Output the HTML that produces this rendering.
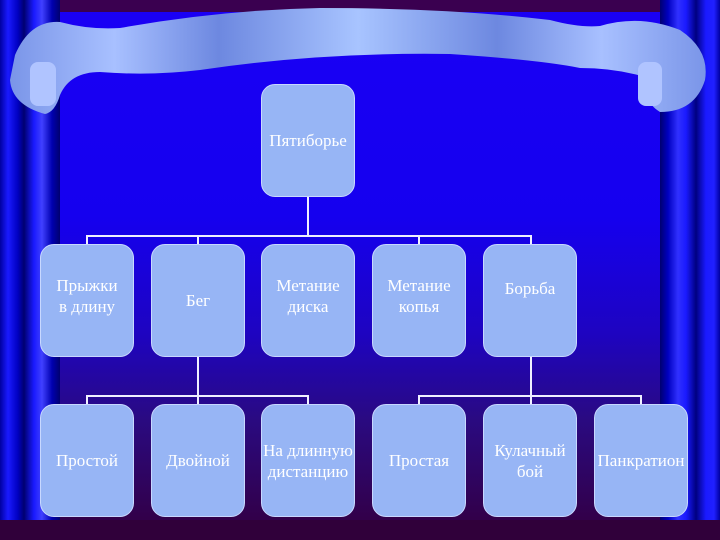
<!DOCTYPE html>
<html><head><meta charset="utf-8"><style>
body{margin:0;width:720px;height:540px;overflow:hidden;background:#2a0040;font-family:"Liberation Serif",serif}
.b{position:absolute;width:94px;height:113px;background:#97b5f5;border:1px solid #c8d8ff;border-radius:14px;box-sizing:border-box;color:#fff;font-size:17px;display:flex;align-items:center;justify-content:center;text-align:center;line-height:21px}
.l{position:absolute;background:#f0f0ff}
</style></head><body>
<div style="position:absolute;left:0;top:0;width:720px;height:540px;background:linear-gradient(#1a00f5 0%,#1500ef 40%,#1e04c0 62%,#2a0a80 78%,#32004a 96%)"></div>
<div style="position:absolute;left:60px;top:0;width:600px;height:12px;background:#3a0050"></div>
<div style="position:absolute;left:0;top:0;width:60px;height:540px;background:linear-gradient(90deg,#0000a0 0,#1a1aff 8px,#0000c0 18px,#000070 24px,#1a1aff 34px,#4040ff 42px,#0000b0 52px,#000070 60px)"></div>
<div style="position:absolute;left:660px;top:0;width:60px;height:540px;background:linear-gradient(90deg,#000070 0,#0000c0 8px,#3030ff 18px,#1a1aff 26px,#000080 36px,#1a1aff 46px,#2020ff 54px,#0000a0 60px)"></div>
<div style="position:absolute;left:0;top:520px;width:720px;height:20px;background:#30003a"></div>
<svg style="position:absolute;left:0;top:0" width="720" height="120">
<defs><linearGradient id="g" x1="0" x2="1"><stop offset="0" stop-color="#7a95e8"/><stop offset=".15" stop-color="#a8c0ff"/><stop offset=".3" stop-color="#6d88e0"/><stop offset=".5" stop-color="#a8c4ff"/><stop offset=".7" stop-color="#6d88e0"/><stop offset=".85" stop-color="#a8c0ff"/><stop offset="1" stop-color="#7a95e8"/></linearGradient></defs>
<path d="M15 55 Q30 20 60 22 Q90 30 120 28 Q220 10 320 8 Q450 8 550 20 Q580 28 600 26 Q640 14 680 30 Q710 50 705 80 Q695 112 660 112 Q640 100 655 80 Q620 68 580 68 Q540 60 450 54 Q320 52 200 70 Q150 76 100 72 Q70 72 60 95 Q55 112 45 114 Q12 105 10 80 Z" fill="url(#g)"/>
<rect x="30" y="62" width="26" height="44" rx="8" fill="#b0c4ff"/>
<rect x="638" y="62" width="24" height="44" rx="8" fill="#b0c4ff"/>
</svg>
<div class="l" style="left:307px;top:197px;width:2px;height:40px"></div>
<div class="l" style="left:86px;top:235px;width:446px;height:2px"></div>
<div class="l" style="left:86px;top:235px;width:2px;height:10px"></div>
<div class="l" style="left:197px;top:235px;width:2px;height:10px"></div>
<div class="l" style="left:418px;top:235px;width:2px;height:10px"></div>
<div class="l" style="left:530px;top:235px;width:2px;height:10px"></div>
<div class="l" style="left:197px;top:357px;width:2px;height:48px"></div>
<div class="l" style="left:86px;top:395px;width:223px;height:2px"></div>
<div class="l" style="left:86px;top:395px;width:2px;height:10px"></div>
<div class="l" style="left:307px;top:395px;width:2px;height:10px"></div>
<div class="l" style="left:530px;top:357px;width:2px;height:48px"></div>
<div class="l" style="left:418px;top:395px;width:224px;height:2px"></div>
<div class="l" style="left:418px;top:395px;width:2px;height:10px"></div>
<div class="l" style="left:640px;top:395px;width:2px;height:10px"></div>
<div class="b" style="left:261px;top:84px">Пятиборье</div>
<div class="b" style="left:40px;top:244px;padding-bottom:10px">Прыжки<br>в длину</div>
<div class="b" style="left:151px;top:244px">Бег</div>
<div class="b" style="left:261px;top:244px;padding-bottom:10px">Метание<br>диска</div>
<div class="b" style="left:372px;top:244px;padding-bottom:10px">Метание<br>копья</div>
<div class="b" style="left:483px;top:244px;padding-bottom:24px">Борьба</div>
<div class="b" style="left:40px;top:404px">Простой</div>
<div class="b" style="left:151px;top:404px">Двойной</div>
<div class="b" style="left:261px;top:404px;white-space:nowrap">На длинную<br>дистанцию</div>
<div class="b" style="left:372px;top:404px">Простая</div>
<div class="b" style="left:483px;top:404px">Кулачный<br>бой</div>
<div class="b" style="left:594px;top:404px;white-space:nowrap">Панкратион</div>
</body></html>
